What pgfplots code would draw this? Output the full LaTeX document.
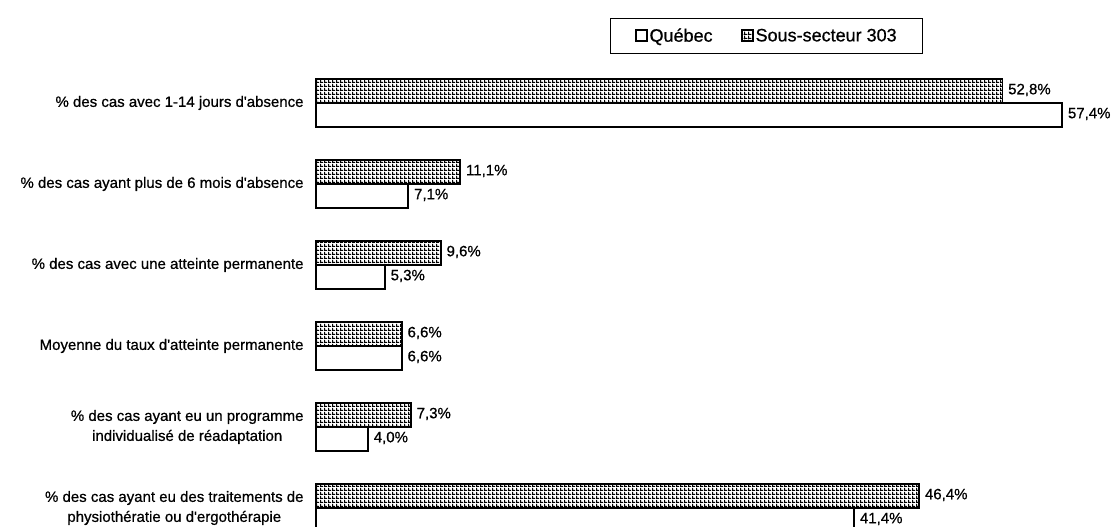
\documentclass[border=0pt]{standalone}
\usepackage{fontspec}
\setmainfont{Liberation Sans}
\newfontfamily\scanfont[FakeBold=0.7]{Liberation Sans}
\usepackage{pgfplots}
\pgfplotsset{compat=1.18}
\usetikzlibrary{patterns}

% dotted grid fill of the Sous-secteur bars
\pgfdeclarepatternformonly{dotgrid}{\pgfpointorigin}{\pgfpoint{4pt}{4pt}}{\pgfpoint{4pt}{4pt}}{
  \pgfpathrectangle{\pgfpointorigin}{\pgfpoint{4pt}{1.3pt}}
  \pgfpathrectangle{\pgfpointorigin}{\pgfpoint{1.3pt}{4pt}}
  \pgfusepath{fill}
}

\newcommand{\lblfont}{\scanfont\fontsize{15}{20}\selectfont}

\begin{document}
\begin{tikzpicture}
\path[use as bounding box] (0,0) rectangle (1111pt,527pt);
\begin{axis}[
    at={(316pt,-1.25pt)}, anchor=south west,
    scale only axis,
    width=780pt, height=457.65pt,
    xbar, bar width=24pt,
    xmin=0, xmax=60,
    ymin=-0.25, ymax=5.4,
    xtick=\empty,
    ytick={0,1,2,3,4,5},
    yticklabels={
      {\% des cas ayant eu des traitements de\\physiothératie ou d'ergothérapie},
      {\% des cas ayant eu un programme\\individualisé de réadaptation},
      {Moyenne du taux d'atteinte permanente},
      {\% des cas avec une atteinte permanente},
      {\% des cas ayant plus de 6 mois d'absence},
      {\% des cas avec 1-14 jours d'absence}},
    yticklabel style={align=center, font=\lblfont, inner sep=0pt, xshift=-8pt},
    axis line style={draw=none},
    tick style={draw=none},
    clip=false,
    nodes near coords={\pgfmathprintnumber[fixed,fixed zerofill,precision=1,use comma,assume math mode=true]{\pgfplotspointmeta}\%},
    every node near coord/.append style={font=\lblfont, anchor=west, inner sep=0pt, xshift=5pt, yshift=1pt},
    legend columns=2,
    legend style={at={(rel axis cs:0.377,1.115)}, anchor=north west,
      draw=black, line width=1pt, font=\scanfont\fontsize{18}{20}\selectfont,
      inner xsep=24pt, inner ysep=8pt,
      /tikz/every even column/.append style={column sep=26pt}},
    legend image code/.code={\draw[#1, line width=2pt] (0pt,-5.5pt) rectangle (11pt,5.5pt);},
]
\addplot[draw=black, fill=white, line width=1.6pt, bar shift=-12pt] coordinates {
  (57.4,5) (7.1,4) (5.3,3) (6.6,2) (4.0,1) (41.4,0)
};
\addlegendentry{Québec}
\addplot[draw=black, pattern=dotgrid, line width=1.6pt, bar shift=12pt] coordinates {
  (52.8,5) (11.1,4) (9.6,3) (6.6,2) (7.3,1) (46.4,0)
};
\addlegendentry{Sous-secteur 303}
\end{axis}
\end{tikzpicture}
\end{document}
